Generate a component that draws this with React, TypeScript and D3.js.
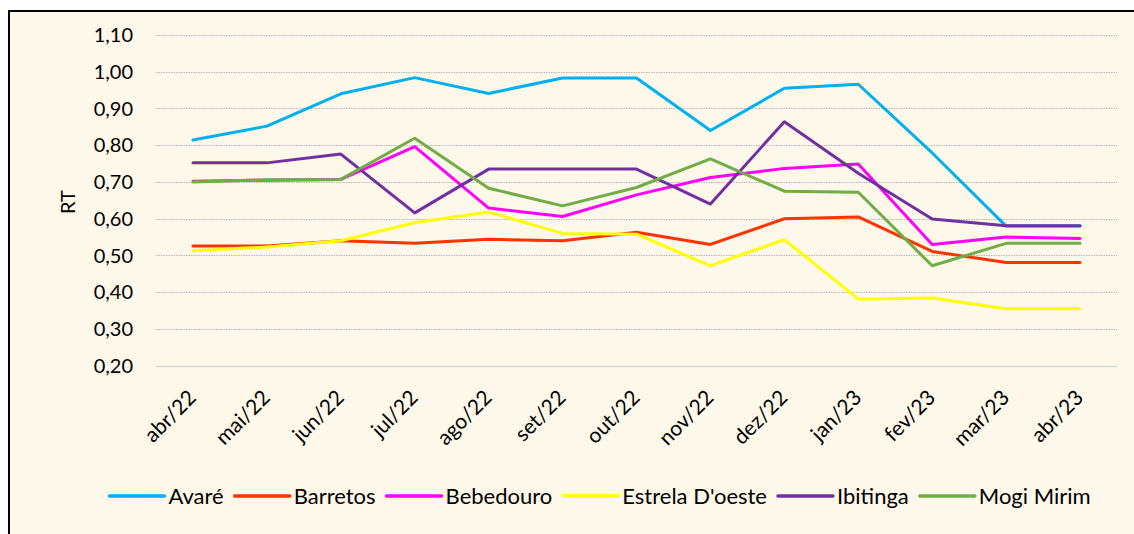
import * as d3 from "d3";
import { useEffect, useRef } from "react";

const W = 1134;
const H = 534;

const months = ["abr/22", "mai/22", "jun/22", "jul/22", "ago/22", "set/22", "out/22", "nov/22", "dez/22", "jan/23", "fev/23", "mar/23", "abr/23"];
const yTicks = [0.2, 0.3, 0.4, 0.5, 0.6, 0.7, 0.8, 0.9, 1.0, 1.1];

const avare = [0.814, 0.852, 0.94, 0.984, 0.941, 0.983, 0.983, 0.84, 0.955, 0.966, 0.779, 0.58, 0.58];
const barretos = [0.526, 0.526, 0.54, 0.533, 0.544, 0.54, 0.563, 0.53, 0.6, 0.605, 0.511, 0.481, 0.481];
const bebedouro = [0.702, 0.705, 0.707, 0.796, 0.629, 0.606, 0.665, 0.712, 0.737, 0.749, 0.53, 0.55, 0.546];
const estrela = [0.513, 0.523, 0.54, 0.589, 0.618, 0.56, 0.558, 0.472, 0.543, 0.381, 0.384, 0.355, 0.355];
const ibitinga = [0.752, 0.752, 0.776, 0.616, 0.735, 0.735, 0.735, 0.64, 0.864, 0.724, 0.599, 0.581, 0.581];
const mogiMirim = [0.7, 0.706, 0.707, 0.819, 0.683, 0.635, 0.685, 0.763, 0.675, 0.672, 0.472, 0.533, 0.533];

const seriesNames = ["Avaré", "Barretos", "Bebedouro", "Estrela D'oeste", "Ibitinga", "Mogi Mirim"];
const seriesValues = [avare, barretos, bebedouro, estrela, ibitinga, mogiMirim];
const seriesColors = ["#00B0F0", "#FF3300", "#FF00FF", "#FFFF00", "#7030A0", "#70AD47"];

const FONT = "Lato, 'Open Sans', sans-serif";

export default function App() {
  const ref = useRef<SVGSVGElement>(null);

  useEffect(() => {
    const svg = d3.select(ref.current);
    svg.selectAll("*").remove();

    // frame
    svg.append("rect").attr("width", W).attr("height", H).attr("fill", "#ffffff");
    svg
      .append("rect")
      .attr("x", 9)
      .attr("y", 11)
      .attr("width", W + 20)
      .attr("height", H + 20)
      .attr("fill", "#FDF8E9")
      .attr("stroke", "#000")
      .attr("stroke-width", 2);

    const x = d3.scaleBand().domain(months).range([156, 1117]);
    const y = d3.scaleLinear().domain([0.2, 1.1]).range([365.7, 35]);
    const cx = (m: string) => x(m)! + x.bandwidth() / 2;

    // grid
    svg
      .append("g")
      .selectAll("line")
      .data(yTicks)
      .join("line")
      .attr("x1", 156)
      .attr("x2", 1117)
      .attr("y1", (d) => Math.round(y(d)) + 0.5)
      .attr("y2", (d) => Math.round(y(d)) + 0.5)
      .attr("stroke", (d) => (d === 0.2 ? "#D9D9D9" : "#B8B8B8"))
      .attr("stroke-width", (d) => (d === 0.2 ? 1.5 : 1))
      .attr("stroke-dasharray", (d) => (d === 0.2 ? null : "1.5,1"));

    // y labels
    svg
      .append("g")
      .selectAll("text")
      .data(yTicks)
      .join("text")
      .attr("x", 133)
      .attr("y", (d) => y(d))
      .attr("dy", "0.36em")
      .attr("text-anchor", "end")
      .attr("font-family", FONT)
      .attr("font-size", 20)
      .attr("fill", "#000")
      .text((d) => d3.format(".2f")(d).replace(".", ","));

    svg
      .append("text")
      .attr("transform", "translate(75,202) rotate(-90)")
      .attr("text-anchor", "middle")
      .attr("font-family", FONT)
      .attr("font-size", 20)
      .text("RT");

    // x labels
    svg
      .append("g")
      .selectAll("text")
      .data(months)
      .join("text")
      .attr("transform", (d) => `translate(${cx(d) + 4.5},399) rotate(-45)`)
      .attr("text-anchor", "end")
      .attr("font-family", FONT)
      .attr("font-size", 21)
      .text((d) => d);

    // lines
    const line = d3
      .line<number>()
      .x((_, i) => cx(months[i]))
      .y((d) => y(d));

    svg
      .append("g")
      .selectAll("path")
      .data(seriesValues)
      .join("path")
      .attr("d", (d) => line(d))
      .attr("fill", "none")
      .attr("stroke", (_, i) => seriesColors[i])
      .attr("stroke-width", 3)
      .attr("stroke-linejoin", "round")
      .attr("stroke-linecap", "round");

    // legend
    const legend = svg.append("g");
    const items = legend.selectAll("g").data(seriesNames).join("g");
    items
      .append("line")
      .attr("x1", 0)
      .attr("x2", 55)
      .attr("y1", 0)
      .attr("y2", 0)
      .attr("stroke", (_, i) => seriesColors[i])
      .attr("stroke-width", 3.5)
      .attr("stroke-linecap", "round");
    const labels = items
      .append("text")
      .attr("x", 59)
      .attr("dy", "0.36em")
      .attr("font-family", FONT)
      .attr("font-size", 22)
      .text((d) => d);

    let pos = 0;
    const offsets: number[] = [];
    labels.each(function () {
      offsets.push(pos);
      pos += 59 + (this as SVGTextElement).getComputedTextLength() + 11;
    });
    const total = pos - 11;
    const start = 600 - total / 2;
    items.attr("transform", (_, i) => `translate(${start + offsets[i]},496)`);
  }, []);

  return (
    <svg
      ref={ref}
      width={W}
      height={H}
      style={{ position: "absolute", left: 0, top: 0, display: "block" }}
    />
  );
}
